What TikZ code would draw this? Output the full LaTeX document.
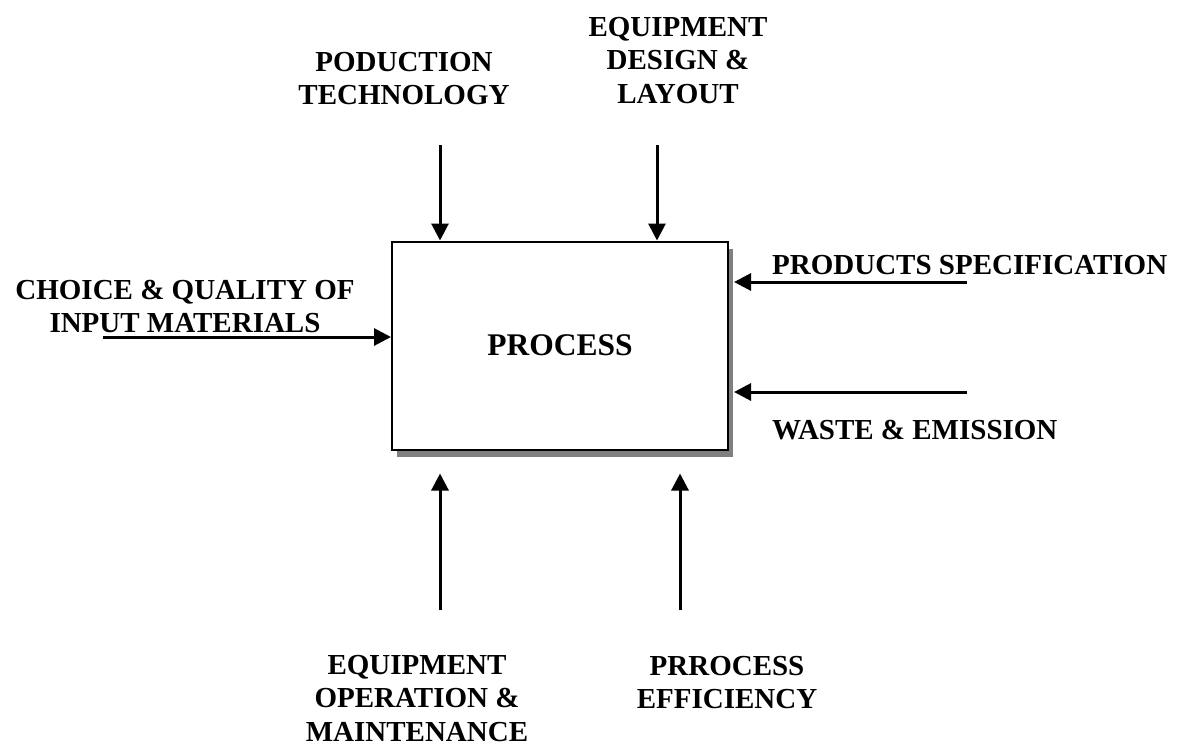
\documentclass[tikz,border=0pt]{standalone}
\usepackage{fontspec}
\setmainfont{Liberation Serif}
\usetikzlibrary{arrows.meta, shadows, positioning}

\begin{document}
\begin{tikzpicture}[x=1pt, y=-1pt,
        lbl/.style={font=\fontsize{29}{33.5}\selectfont\bfseries, inner sep=0pt, align=center},
        feed/.style={line width=3pt, -{Triangle[length=17pt, width=17pt]}}]
        \useasboundingbox (0,0) rectangle (1177,747);

        % the process box with its shadow
        \node[lbl, font=\fontsize{31.5}{34}\selectfont\bfseries, draw, line width=2pt, fill=white,
              minimum width=336pt, minimum height=208pt,
              drop shadow={shadow xshift=5pt, shadow yshift=-7pt, fill=gray, opacity=1}] (P) at (560,345.5) {PROCESS};

        % labels
        \node[lbl, anchor=north] (tech) at (404,52) {PODUCTION\\TECHNOLOGY};
        \node[lbl, anchor=north] (design) at (678,17) {EQUIPMENT\\DESIGN \&\\LAYOUT};
        \node[lbl, anchor=north] (input) at (185,280) {CHOICE \& QUALITY OF\\INPUT MATERIALS};
        \node[lbl, anchor=north west] (spec) at (772,255) {PRODUCTS SPECIFICATION};
        \node[lbl, anchor=north west] (waste) at (772,420) {WASTE \& EMISSION};
        \node[lbl, anchor=north] (oper) at (417,655) {EQUIPMENT\\OPERATION \&\\MAINTENANCE};
        \node[lbl, anchor=north] (eff) at (727,656) {PRROCESS\\EFFICIENCY};

        % free ends of the arrows
        \coordinate (T1) at (440,145);
        \coordinate (T2) at (657,145);
        \coordinate (L1) at (103,337);
        \coordinate (R1) at (967,282);
        \coordinate (R2) at (967,392);
        \coordinate (B1) at (440,610);
        \coordinate (B2) at (680,610);

        \draw[feed] (T1) -- (T1 |- P.north);
        \draw[feed] (T2) -- (T2 |- P.north);
        \draw[feed] (L1) -- (L1 -| P.west);
        \draw[feed] (R1) -- ([xshift=5pt]R1 -| P.east);
        \draw[feed] (R2) -- ([xshift=5pt]R2 -| P.east);
        \draw[feed] (B1) -- ([yshift=-23pt]B1 |- P.south);
        \draw[feed] (B2) -- ([yshift=-23pt]B2 |- P.south);
    \end{tikzpicture}
\end{document}
